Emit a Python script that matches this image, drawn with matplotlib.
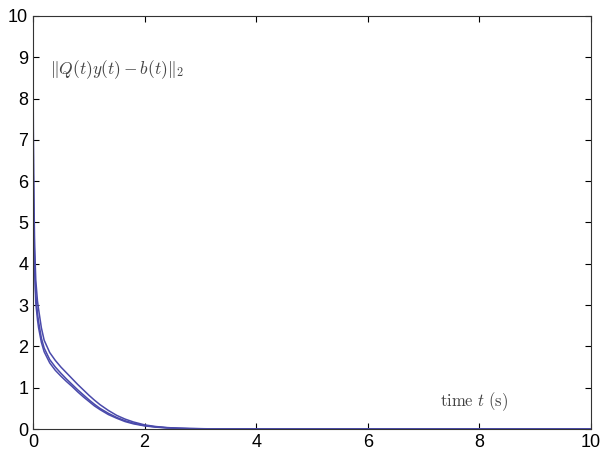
import matplotlib
matplotlib.use("Agg")
import matplotlib.pyplot as plt

plt.rcParams['font.family'] = ['Liberation Sans', 'DejaVu Sans']
plt.rcParams['mathtext.fontset'] = 'cm'

# time samples (s) and residual norms for the runs
t = [0, 0.01, 0.03, 0.05, 0.08, 0.1, 0.15, 0.2, 0.3, 0.4, 0.5, 0.6, 0.7,
     0.8, 0.9, 1.0, 1.1, 1.2, 1.35, 1.5, 1.65, 1.8, 2.0, 2.2, 2.4, 2.6,
     2.8, 3.2, 4.0, 10.0]
run_a = [9.0, 6.2, 4.4, 3.6, 3.1, 2.9, 2.45, 2.15, 1.85, 1.66, 1.5, 1.36,
         1.22, 1.08, 0.95, 0.82, 0.7, 0.59, 0.45, 0.33, 0.24, 0.17, 0.1,
         0.06, 0.035, 0.02, 0.012, 0.004, 0.0, 0.0]
run_b = [8.5, 5.6, 4.0, 3.25, 2.8, 2.6, 2.2, 1.96, 1.68, 1.5, 1.35, 1.21,
         1.08, 0.95, 0.83, 0.71, 0.6, 0.5, 0.38, 0.28, 0.2, 0.14, 0.085,
         0.05, 0.03, 0.017, 0.01, 0.003, 0.0, 0.0]
run_c = [8.0, 5.2, 3.8, 3.05, 2.65, 2.45, 2.1, 1.87, 1.6, 1.42, 1.28, 1.15,
         1.03, 0.9, 0.78, 0.67, 0.56, 0.47, 0.35, 0.26, 0.18, 0.125, 0.075,
         0.045, 0.026, 0.015, 0.008, 0.002, 0.0, 0.0]
xticks = [0, 2, 4, 6, 8, 10]
yticks = list(range(0, 11))

fig = plt.figure(figsize=(6.04, 4.58), dpi=100)
ax = fig.add_axes([33 / 604, 1 - 429 / 458, 558 / 604, 413 / 458])

for run in (run_a, run_b, run_c):
    ax.plot(t, run, color='#4a4aab', lw=1.1)

ax.set_xlim(0, 10)
ax.set_ylim(0, 10)
ax.set_xticks(xticks)
ax.set_yticks(yticks)
ax.tick_params(direction='in', top=True, right=True, length=4, labelsize=13)
for s in ax.spines.values():
    s.set_color('#333333')

ax.text(0.3, 8.6, r'$\|Q(t)y(t)-b(t)\|_2$', fontsize=12.5, color='#444444')
ax.text(7.3, 0.55, r'$\mathrm{time}\ t\ \mathrm{(s)}$', fontsize=12, color='#444444')

fig.savefig('out.png', dpi=100)
